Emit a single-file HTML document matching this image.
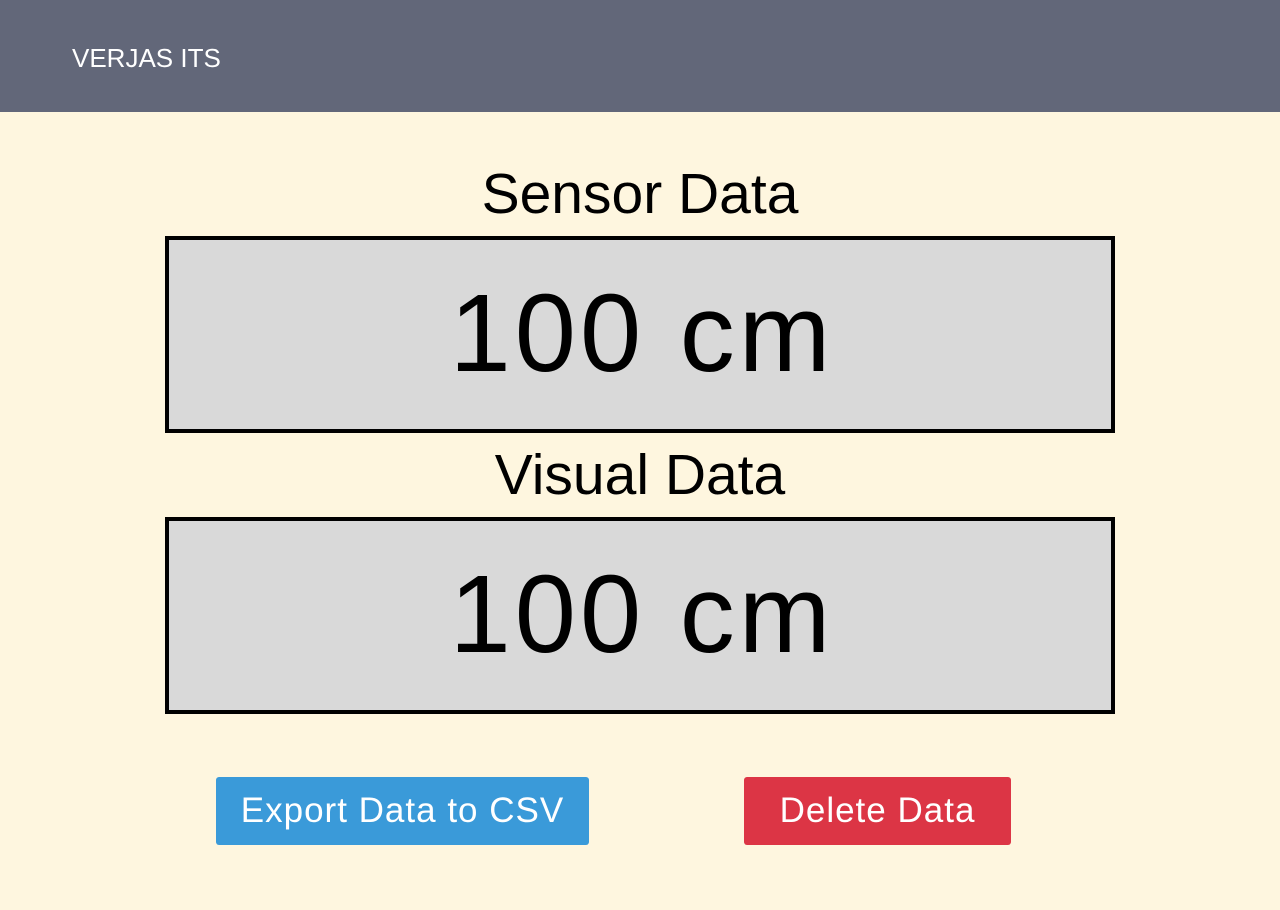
<!DOCTYPE html>
<html><head><style>
body{margin:0;width:1280px;height:910px;background:#fef6df;font-family:"Liberation Sans",sans-serif;position:relative;overflow:hidden}
.hdr{position:absolute;left:0;top:0;width:1280px;height:112px;background:#626779}
.hdr span{position:absolute;left:72px;top:43px;font-size:26px;line-height:30px;color:#fff}
.t{position:absolute;left:0;width:1280px;text-align:center;font-size:57px;line-height:60px;color:#000}
.box{position:absolute;left:165px;width:942px;height:189px;border:4px solid #000;background:#d9d9d9;text-align:center;font-size:110px;color:#000}
.box div{position:absolute;left:0;right:0;top:34px;line-height:120px;letter-spacing:4px;text-indent:4px}
.btn{position:absolute;top:777px;height:68px;border-radius:3px;color:#fff;font-size:35px;line-height:68px;text-align:center;letter-spacing:1px}
</style></head><body>
<div class="hdr"><span>VERJAS ITS</span></div>
<div class="t" style="top:164px">Sensor Data</div>
<div class="box" style="top:236px"><div>100 cm</div></div>
<div class="t" style="top:445px">Visual Data</div>
<div class="box" style="top:517px"><div>100 cm</div></div>
<div class="btn" style="left:216px;width:373px;background:#3a9ad9">Export Data to CSV</div>
<div class="btn" style="left:744px;width:267px;background:#dc3545">Delete Data</div>
</body></html>
